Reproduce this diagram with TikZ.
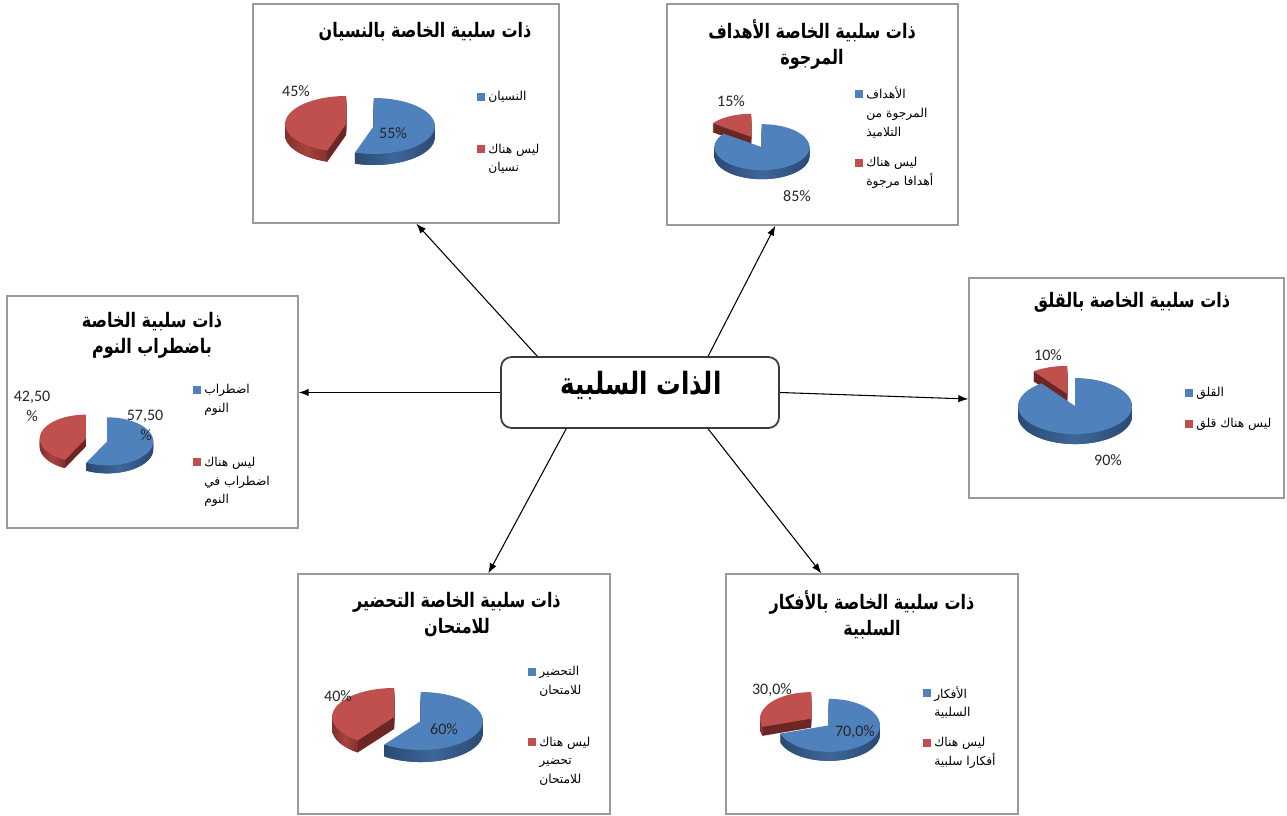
\documentclass[tikz,border=0pt]{standalone}
\usepackage{fontspec}
\setmainfont{Carlito}
\newfontfamily\arabicfont[Script=Arabic]{DejaVu Sans}
\newfontfamily\arabictitle[Script=Arabic,FakeStretch=0.8]{DejaVu Sans}
\TeXXeTstate=1
\usetikzlibrary{arrows.meta,fit,calc}

\definecolor{framegray}{HTML}{9A9A9A}
\definecolor{hubgray}{HTML}{3A3A3A}
\definecolor{pcttext}{HTML}{262626}
% blue series
\definecolor{btop}{HTML}{4F81BD}
\definecolor{bside}{HTML}{3E6699}
\definecolor{bedge}{HTML}{2A4A72}
\definecolor{bface}{HTML}{2E507C}
% red series
\definecolor{rtop}{HTML}{C0504D}
\definecolor{rside}{HTML}{A6423F}
\definecolor{redge}{HTML}{84302E}
\definecolor{rface}{HTML}{6C2624}

\newcommand\artext[1]{{\beginR #1\endR}}

% one exploded 3D pie slice; angles run clockwise from 12 o'clock
% #1,#2 slice angles, #3,#4 visible part of the outer wall, #5 colour prefix
\newcommand\pieslice[5]{%
  \pgfmathsetmacro\slMid{(#1+#2)/2}%
  \pgfmathsetmacro\slX{\pcx+\pe*sin(\slMid)}%
  \pgfmathsetmacro\slY{\pcy-\pe*\pry/\prx*cos(\slMid)}%
  \foreach \k in {\pd,...,1}{%
    \fill[#5face] ({\slX},{\slY+\k}) -- plot[domain=#1:#2,samples=60,variable=\t]
      ({\slX+\prx*sin(\t)},{\slY+\k-\pry*cos(\t)}) -- cycle;}%
  \ifnum#3<#4\relax
    \shade[left color=#5edge,right color=#5edge,middle color=#5side]
      plot[domain=#3:#4,samples=50,variable=\t] ({\slX+\prx*sin(\t)},{\slY-\pry*cos(\t)})
      -- plot[domain=#4:#3,samples=50,variable=\t] ({\slX+\prx*sin(\t)},{\slY+\pd-\pry*cos(\t)})
      -- cycle;
  \fi
  \fill[#5top] ({\slX},{\slY}) -- plot[domain=#1:#2,samples=60,variable=\t]
    ({\slX+\prx*sin(\t)},{\slY-\pry*cos(\t)}) -- cycle;
}
% centre x, centre y, x radius, y radius, depth, explosion
\newcommand\pieset[6]{\def\pcx{#1}\def\pcy{#2}\def\prx{#3}\def\pry{#4}\def\pd{#5}\def\pe{#6}}

\begin{document}
\begin{tikzpicture}[x=0.75pt,y=-0.75pt,
  chartbox/.style={draw=framegray,line width=1pt,inner sep=0pt,fill=white},
  hubbox/.style={draw=hubgray,line width=1.3pt,rounded corners=8pt,inner sep=0pt,fill=white},
  conn/.style={draw=black,line width=0.8pt,-{Latex[length=7.5pt,width=5.5pt]}},
  charttitle/.style={font=\arabictitle\bfseries\fontsize{15}{19.5}\selectfont,align=center,inner sep=0pt},
  hubtext/.style={font=\arabictitle\bfseries\fontsize{23}{26}\selectfont,inner sep=0pt},
  legtext/.style={font=\arabicfont\fontsize{9.2}{14}\selectfont,align=left,anchor=west,inner sep=0pt},
  key/.style={minimum size=5.5pt,inner sep=0pt},
  pct/.style={font=\fontsize{12}{13}\selectfont,text=pcttext,inner sep=0pt}]

\fill[white] (0,0) rectangle (1287,816);
\useasboundingbox (0,0) rectangle (1287,816);

% chart frames
\node[chartbox,fit={(253,4) (559,223)}] (b1) {};
\node[chartbox,fit={(667,4) (958,225)}] (b2) {};
\node[chartbox,fit={(7,296) (298,528)}] (b3) {};
\node[chartbox,fit={(969,278) (1284,498)}] (b4) {};
\node[chartbox,fit={(298,574) (610,814)}] (b5) {};
\node[chartbox,fit={(726,574) (1018,814)}] (b6) {};

% central box
\node[hubbox,fit={(501,357) (779,428)}] (c) {};
\node[hubtext] (ct) at (641,386) {\artext{الذات السلبية}};

% connectors
\draw[conn] ($(c.north west)+(37,0)$) -- ($(b1.south west)+(164,0)$);
\draw[conn] ($(c.north west)+(208,0)$) -- ($(b2.south west)+(109,0)$);
\draw[conn] (c.west) -- (c.west -| b3.east);
\draw[conn] (c.east) -- ($(b4.west)+(0,11)$);
\draw[conn] ($(c.south west)+(66,0)$) -- ($(b5.north west)+(191,0)$);
\draw[conn] ($(c.south west)+(208,0)$) -- ($(b6.north west)+(96,0)$);

% ---- chart 1: forgetting
\node[charttitle] (t1) at (425,32) {\artext{ذات سلبية الخاصة بالنسيان}};
\pieset{360}{125}{61}{28}{11}{14}
\pieslice{198}{360}{198}{270}{r}
\pieslice{0}{198}{90}{198}{b}
\node[pct] (p1r) at (296,91) {45\%};
\node[pct] (p1b) at (393,133) {55\%};
\node[key,fill=btop] (k1b) at (481,97) {};
\node[legtext] (l1b) at (488,97) {\artext{النسيان}};
\node[key,fill=rtop] (k1r) at (481,149) {};
\node[legtext] (l1r) at (488,159) {\artext{ليس هناك}\\\artext{نسيان}};

% ---- chart 2: expected goals
\node[charttitle] (t2) at (812,45) {\artext{ذات سلبية الخاصة الأهداف}\\\artext{المرجوة}};
\pieset{756.5}{142}{47.5}{23}{9}{12}
\pieslice{306}{360}{0}{0}{r}
\pieslice{0}{306}{90}{270}{b}
\node[pct] (p2r) at (731,101) {15\%};
\node[pct] (p2b) at (797,196) {85\%};
\node[key,fill=btop] (k2b) at (859,94) {};
\node[legtext] (l2b) at (866,112.5) {\artext{الأهداف}\\\artext{المرجوة من}\\\artext{التلاميذ}};
\node[key,fill=rtop] (k2r) at (859,163) {};
\node[legtext] (l2r) at (866,173) {\artext{ليس هناك}\\\artext{أهدافا مرجوة}};

% ---- chart 3: sleep disorder
\node[charttitle] (t3) at (152,335) {\artext{ذات سلبية الخاصة}\\\artext{باضطراب النوم}};
\pieset{96.5}{440}{46}{24}{8}{11}
\pieslice{207}{360}{207}{270}{r}
\pieslice{0}{207}{90}{207}{b}
\node[pct] (p3r) at (32,397) {42,50};
\node[pct] (p3rr) at (32,416) {\%};
\node[pct] (p3b) at (145,416) {57,50};
\node[pct] (p3bb) at (146,435) {\%};
\node[key,fill=btop] (k3b) at (197,390) {};
\node[legtext] (l3b) at (204,400) {\artext{اضطراب}\\\artext{النوم}};
\node[key,fill=rtop] (k3r) at (197,462) {};
\node[legtext] (l3r) at (204,482) {\artext{ليس هناك}\\\artext{اضطراب في}\\\artext{النوم}};

% ---- chart 4: anxiety
\node[charttitle] (t4) at (1132,302) {\artext{ذات سلبية الخاصة بالقلق}};
\pieset{1071}{400}{57}{28}{10}{13}
\pieslice{324}{360}{0}{0}{r}
\pieslice{0}{324}{90}{270}{b}
\node[pct] (p4r) at (1048,355) {10\%};
\node[pct] (p4b) at (1108,460) {90\%};
\node[key,fill=btop] (k4b) at (1189,393) {};
\node[legtext] (l4b) at (1196,393) {\artext{القلق}};
\node[key,fill=rtop] (k4r) at (1189,424) {};
\node[legtext] (l4r) at (1196,424) {\artext{ليس هناك قلق}};

% ---- chart 5: exam preparation
\node[charttitle] (t5) at (457,615) {\artext{ذات سلبية الخاصة التحضير}\\\artext{للامتحان}};
\pieset{407.5}{719}{62}{29}{12}{14}
\pieslice{216}{360}{216}{270}{r}
\pieslice{0}{216}{90}{216}{b}
\node[pct] (p5r) at (338,696) {40\%};
\node[pct] (p5b) at (444,729) {60\%};
\node[key,fill=btop] (k5b) at (532,672) {};
\node[legtext] (l5b) at (539,681) {\artext{التحضير}\\\artext{للامتحان}};
\node[key,fill=rtop] (k5r) at (532,742) {};
\node[legtext] (l5r) at (539,761) {\artext{ليس هناك}\\\artext{تحضير}\\\artext{للامتحان}};

% ---- chart 6: negative thoughts
\node[charttitle] (t6) at (872,615) {\artext{ذات سلبية الخاصة بالأفكار}\\\artext{السلبية}};
\pieset{820}{722}{51}{26.5}{9}{11}
\pieslice{252}{360}{252}{270}{r}
\pieslice{0}{252}{90}{252}{b}
\node[pct] (p6r) at (772,690) {30,0\%};
\node[pct] (p6b) at (855,732) {70,0\%};
\node[key,fill=btop] (k6b) at (927,693) {};
\node[legtext] (l6b) at (934,702.5) {\artext{الأفكار}\\\artext{السلبية}};
\node[key,fill=rtop] (k6r) at (927,743) {};
\node[legtext] (l6r) at (934,752.5) {\artext{ليس هناك}\\\artext{أفكارا سلبية}};

\end{tikzpicture}
\end{document}
